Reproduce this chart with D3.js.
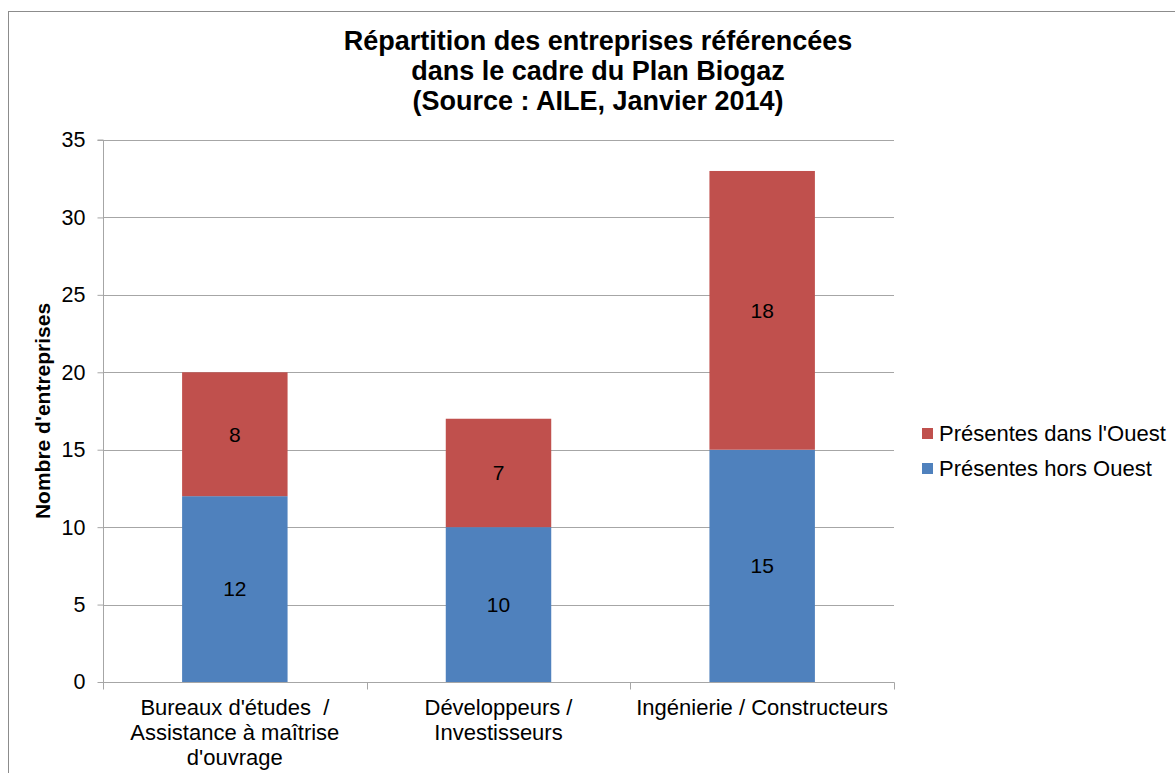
<!DOCTYPE html>
<html>
<head>
<meta charset="utf-8">
<script src="https://cdnjs.cloudflare.com/ajax/libs/d3/7.8.5/d3.min.js"></script>
<style>
  body { margin: 0; background: #fff; }
  text { font-family: "Liberation Sans", Arial, sans-serif; fill: #000; }
</style>
</head>
<body>
<div class="chart"></div>
<script>
var width = 1175,
    height = 773;

// data
var categories = ["Bureaux d'études  / Assistance à maîtrise d'ouvrage", "Développeurs / Investisseurs", "Ingénierie / Constructeurs"];
var categoryLines = [
  ["Bureaux d'études  /", "Assistance à maîtrise", "d'ouvrage"],
  ["Développeurs /", "Investisseurs"],
  ["Ingénierie / Constructeurs"]
];
var horsOuest = [12, 10, 15];
var dansOuest = [8, 7, 18];
var seriesNames = ["Présentes hors Ouest", "Présentes dans l'Ouest"];
var yTicks = [0, 5, 10, 15, 20, 25, 30, 35];
var titleLines = ["Répartition des entreprises référencées", "dans le cadre du Plan Biogaz", "(Source : AILE, Janvier 2014)"];

var colors = ["#4f81bd", "#c0504d"];

var margin = {left: 103, top: 140, right: 894, bottom: 682};

var svg = d3.select(".chart").append("svg")
    .attr("width", width)
    .attr("height", height);

// outer frame (only top and left visible in the picture)
svg.append("rect")
    .attr("x", 8.5)
    .attr("y", 11.5)
    .attr("width", 1175)
    .attr("height", 800)
    .attr("fill", "none")
    .attr("stroke", "#8c8c8c")
    .attr("stroke-width", 1);

var x = d3.scaleBand()
    .domain(categories)
    .range([margin.left, margin.right])
    .paddingInner(0.6)
    .paddingOuter(0.3);

var xOuter = d3.scaleBand()
    .domain(categories)
    .range([margin.left, margin.right]);

var y = d3.scaleLinear()
    .domain([0, 35])
    .range([margin.bottom, margin.top]);

// gridlines
svg.append("g")
  .selectAll("line")
  .data(yTicks.filter(function(d) { return d > 0; }))
  .enter().append("line")
    .attr("x1", margin.left)
    .attr("x2", margin.right)
    .attr("y1", function(d) { return Math.round(y(d)) + 0.5; })
    .attr("y2", function(d) { return Math.round(y(d)) + 0.5; })
    .attr("stroke", "#a6a6a6")
    .attr("stroke-width", 1);

// stacked data
var rows = categories.map(function(c, i) {
  return {cat: c, hors: horsOuest[i], dans: dansOuest[i]};
});
var stack = d3.stack().keys(["hors", "dans"]);
var layers = stack(rows);

var g = svg.append("g");
layers.forEach(function(layer, li) {
  g.selectAll(".bar" + li)
    .data(layer)
    .enter().append("rect")
      .attr("x", function(d) { return x(d.data.cat); })
      .attr("y", function(d) { return y(d[1]); })
      .attr("width", x.bandwidth())
      .attr("height", function(d) { return y(d[0]) - y(d[1]); })
      .attr("fill", colors[li]);

  g.selectAll(".lab" + li)
    .data(layer)
    .enter().append("text")
      .attr("x", function(d) { return x(d.data.cat) + x.bandwidth() / 2; })
      .attr("y", function(d) { return (y(d[0]) + y(d[1])) / 2; })
      .attr("dy", "0.35em")
      .attr("text-anchor", "middle")
      .style("font-size", "21px")
      .text(function(d) { return d[1] - d[0]; });
});

// y axis
var yAxis = d3.axisLeft(y).tickValues(yTicks).tickSize(6).tickPadding(12);
var ya = svg.append("g")
    .attr("transform", "translate(" + (margin.left + 0.5) + ",0)")
    .call(yAxis);
ya.select(".domain").attr("stroke", "#a6a6a6").attr("d", "M-6," + margin.top + "H0V" + margin.bottom);
ya.selectAll(".tick line").attr("stroke", "#a6a6a6");
ya.selectAll(".tick text").style("font-size", "21.5px").style("font-family", "Liberation Sans, Arial, sans-serif").attr("fill", "#000");

// x axis
var xa = svg.append("g")
    .attr("transform", "translate(0," + (margin.bottom + 0.5) + ")");
xa.append("line")
    .attr("x1", margin.left).attr("x2", margin.right + 0.5)
    .attr("stroke", "#a6a6a6");
xa.selectAll(".xtick")
  .data(categories.concat(["end"]))
  .enter().append("line")
    .attr("x1", function(d, i) { return Math.round(margin.left + i * xOuter.bandwidth()) + 0.5; })
    .attr("x2", function(d, i) { return Math.round(margin.left + i * xOuter.bandwidth()) + 0.5; })
    .attr("y1", 0).attr("y2", 7)
    .attr("stroke", "#a6a6a6");

categoryLines.forEach(function(lines, i) {
  var cx = x(categories[i]) + x.bandwidth() / 2;
  var t = svg.append("text")
      .attr("text-anchor", "middle")
      .style("font-size", "22px")
      .style("white-space", "pre");
  lines.forEach(function(l, j) {
    t.append("tspan")
      .attr("x", cx)
      .attr("y", 715 + j * 25)
      .text(l);
  });
});

// y axis title
svg.append("text")
    .attr("transform", "translate(50," + ((margin.top + margin.bottom) / 2) + ") rotate(-90)")
    .attr("text-anchor", "middle")
    .style("font-size", "21px")
    .style("font-weight", "bold")
    .text("Nombre d'entreprises");

// title
var title = svg.append("text")
    .attr("text-anchor", "middle")
    .style("font-size", "27px")
    .style("font-weight", "bold");
titleLines.forEach(function(l, i) {
  title.append("tspan")
    .attr("x", 598)
    .attr("y", 50 + i * 30)
    .text(l);
});

// legend (dans l'Ouest on top)
var legendOrder = [1, 0];
var legend = svg.append("g");
legendOrder.forEach(function(si, i) {
  legend.append("rect")
    .attr("x", 922)
    .attr("y", 428 + i * 35)
    .attr("width", 11)
    .attr("height", 11)
    .attr("fill", colors[si]);
  legend.append("text")
    .attr("x", 939)
    .attr("y", 441 + i * 35)
    .style("font-size", "22px")
    .text(seriesNames[si]);
});
</script>
</body>
</html>
